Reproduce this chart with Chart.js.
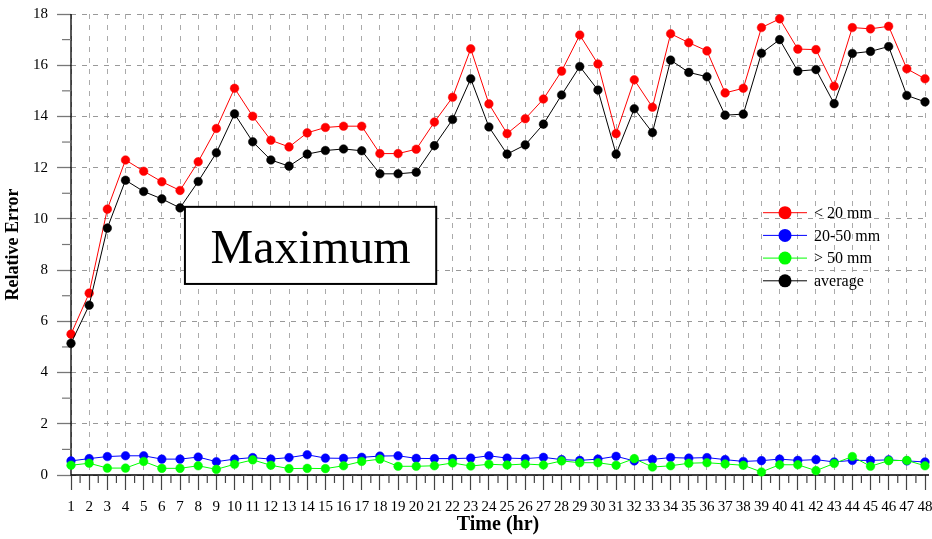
<!DOCTYPE html>
<html><head><meta charset="utf-8">
<script src="https://cdn.jsdelivr.net/npm/chart.js@4.4.0/dist/chart.umd.min.js"></script>
<style>html,body{margin:0;padding:0;background:#fff;}canvas{display:block;}</style>
</head><body>
<canvas id="c" width="932" height="539"></canvas>
<script>
const hours = ['1','2','3','4','5','6','7','8','9','10','11','12','13','14','15','16','17','18','19','20','21','22','23','24','25','26','27','28','29','30','31','32','33','34','35','36','37','38','39','40','41','42','43','44','45','46','47','48'];
const seriesNames = ['< 20 mm', '20-50 mm', '> 50 mm', 'average'];
const redSmall = [5.50,7.10,10.38,12.30,11.86,11.45,11.11,12.23,13.53,15.10,14.01,13.07,12.81,13.36,13.57,13.62,
  13.62,12.55,12.55,12.72,13.78,14.75,16.64,14.49,13.33,13.91,14.68,15.77,17.18,16.05,13.33,
  15.43,14.36,17.23,16.88,16.56,14.92,15.10,17.47,17.81,16.63,16.61,15.18,17.47,17.42,17.52,15.86,15.47];
const blueMid = [0.55,0.64,0.72,0.75,0.75,0.62,0.62,0.70,0.52,0.62,0.68,0.62,0.68,0.79,0.66,0.65,
  0.69,0.74,0.75,0.65,0.64,0.64,0.66,0.75,0.66,0.64,0.69,0.60,0.57,0.62,0.73,
  0.55,0.61,0.68,0.66,0.68,0.60,0.53,0.56,0.62,0.57,0.60,0.51,0.57,0.57,0.59,0.55,0.51];
const greenLarge = [0.38,0.46,0.27,0.27,0.53,0.26,0.26,0.36,0.22,0.42,0.59,0.38,0.25,0.26,0.25,0.36,
  0.53,0.62,0.34,0.34,0.36,0.47,0.35,0.42,0.39,0.43,0.39,0.55,0.48,0.48,0.38,
  0.64,0.31,0.36,0.46,0.48,0.43,0.38,0.12,0.40,0.40,0.17,0.45,0.72,0.34,0.56,0.57,0.36];
const average = [5.14,6.63,9.64,11.51,11.07,10.78,10.43,11.46,12.58,14.10,13.01,12.30,12.06,12.53,12.67,12.73,
  12.66,11.76,11.76,11.82,12.86,13.88,15.47,13.59,12.53,12.89,13.70,14.84,15.95,15.03,12.53,
  14.30,13.37,16.20,15.72,15.55,14.05,14.09,16.47,17.00,15.77,15.83,14.50,16.46,16.54,16.73,14.82,14.57];
const colors = ['#ff0000', '#0000ff', '#00ff00', '#000000'];
const annotationText = 'Maximum';
// annotation box in data units (hour, value)
const annotationBox = {xMin: 7.27, xMax: 21.1, yMin: 7.46, yMax: 10.47};

const SERIF = "'Liberation Serif', 'Times New Roman', serif";

const decor = {
  id: 'decor',
  beforeDatasetsDraw(chart) {
    const {ctx, chartArea, scales: {x, y}} = chart;
    ctx.save();
    // axis lines
    ctx.strokeStyle = '#000';
    ctx.lineWidth = 1.3;
    ctx.beginPath();
    ctx.moveTo(chartArea.left, chartArea.top);
    ctx.lineTo(chartArea.left, chartArea.bottom);
    ctx.lineTo(chartArea.right + 4, chartArea.bottom);
    ctx.stroke();
    // minor ticks on x (half hours)
    ctx.strokeStyle = '#444';
    ctx.lineWidth = 1.2;
    const yb = y.getPixelForValue(0);
    for (let i = 0; i < hours.length - 1; i++) {
      const px = (x.getPixelForTick(i) + x.getPixelForTick(i + 1)) / 2;
      ctx.beginPath(); ctx.moveTo(px, yb); ctx.lineTo(px, yb + 8); ctx.stroke();
    }
    // minor ticks on y (odd values)
    ctx.strokeStyle = '#777';
    for (let v = 1; v < 18; v += 2) {
      const py = y.getPixelForValue(v);
      ctx.beginPath(); ctx.moveTo(x.left - 9, py); ctx.lineTo(x.left, py); ctx.stroke();
    }
    // annotation box
    const bx1 = x.getPixelForValue(annotationBox.xMin - 1);
    const bx2 = x.getPixelForValue(annotationBox.xMax - 1);
    const by1 = y.getPixelForValue(annotationBox.yMax);
    const by2 = y.getPixelForValue(annotationBox.yMin);
    ctx.fillStyle = '#fff';
    ctx.fillRect(bx1, by1, bx2 - bx1, by2 - by1);
    ctx.strokeStyle = '#000';
    ctx.lineWidth = 2;
    ctx.strokeRect(bx1, by1, bx2 - bx1, by2 - by1);
    ctx.fillStyle = '#000';
    ctx.font = '48px ' + SERIF;
    ctx.textAlign = 'center';
    ctx.textBaseline = 'alphabetic';
    ctx.fillText(annotationText, (bx1 + bx2) / 2, (by1 + by2) / 2 + 17.5);
    ctx.restore();
  },
  afterDatasetsDraw(chart) {
    const {ctx, chartArea} = chart;
    ctx.save();
    const lx1 = chartArea.right - 162, lx2 = chartArea.right - 118;
    const mx = (lx1 + lx2) / 2;
    const tx = chartArea.right - 111;
    ctx.font = '16px ' + SERIF;
    ctx.textAlign = 'left';
    ctx.textBaseline = 'middle';
    seriesNames.forEach((name, i) => {
      const ly = chartArea.top + 198.7 + i * 22.7;
      ctx.strokeStyle = colors[i];
      ctx.lineWidth = 1;
      ctx.beginPath(); ctx.moveTo(lx1, ly); ctx.lineTo(lx2, ly); ctx.stroke();
      ctx.fillStyle = colors[i];
      ctx.beginPath(); ctx.arc(mx, ly, 6.5, 0, Math.PI * 2); ctx.fill();
      ctx.fillStyle = '#000';
      ctx.fillText(name, tx, ly + 1);
    });
    ctx.restore();
  }
};

const seriesData = [redSmall, blueMid, greenLarge, average];
const drawOrder = [3, 2, 1, 0];

new Chart(document.getElementById('c'), {
  type: 'line',
  data: {
    labels: hours,
    datasets: seriesData.map((d, i) => ({
      label: seriesNames[i],
      data: d,
      borderColor: colors[i],
      backgroundColor: colors[i],
      borderWidth: 1,
      pointRadius: 4.3,
      pointBorderWidth: 0.5,
      pointBorderColor: colors[i],
      pointBackgroundColor: colors[i],
      tension: 0,
      fill: false,
      clip: false,
      order: drawOrder[i]
    }))
  },
  options: {
    responsive: false,
    animation: false,
    devicePixelRatio: 1,
    layout: {padding: {left: 0, right: 7, top: 14, bottom: 0}},
    plugins: {legend: {display: false}, tooltip: {enabled: false}},
    scales: {
      x: {
        type: 'category',
        offset: false,
        grid: {color: '#aaa', lineWidth: 1, tickLength: 15, tickColor: '#444', tickWidth: 1.2, drawTicks: true},
        border: {display: false, dash: [5, 6]},
        ticks: {color: '#000', font: {family: SERIF, size: 15}, padding: 8, maxRotation: 0, autoSkip: false},
        title: {display: true, text: 'Time (hr)', color: '#000', font: {family: SERIF, size: 20, weight: 'bold'}, padding: {top: 0, bottom: 2}},
        afterFit(s) { s.height = 64; s.paddingLeft = 0; s.paddingRight = 0; }
      },
      y: {
        min: 0, max: 18,
        grid: {color: '#999', lineWidth: 1, tickLength: 14, tickColor: '#777', tickWidth: 1.3, drawTicks: true},
        border: {display: false, dash: [5, 6]},
        ticks: {stepSize: 2, color: '#000', font: {family: SERIF, size: 15}, padding: 9},
        title: {display: true, text: 'Relative Error', color: '#000', font: {family: SERIF, size: 18, weight: 'bold'}, padding: {top: 3, bottom: 0}},
        afterFit(s) { s.width = 71; s.paddingTop = 0; s.paddingBottom = 0; }
      }
    }
  },
  plugins: [decor]
});
</script>
</body></html>
